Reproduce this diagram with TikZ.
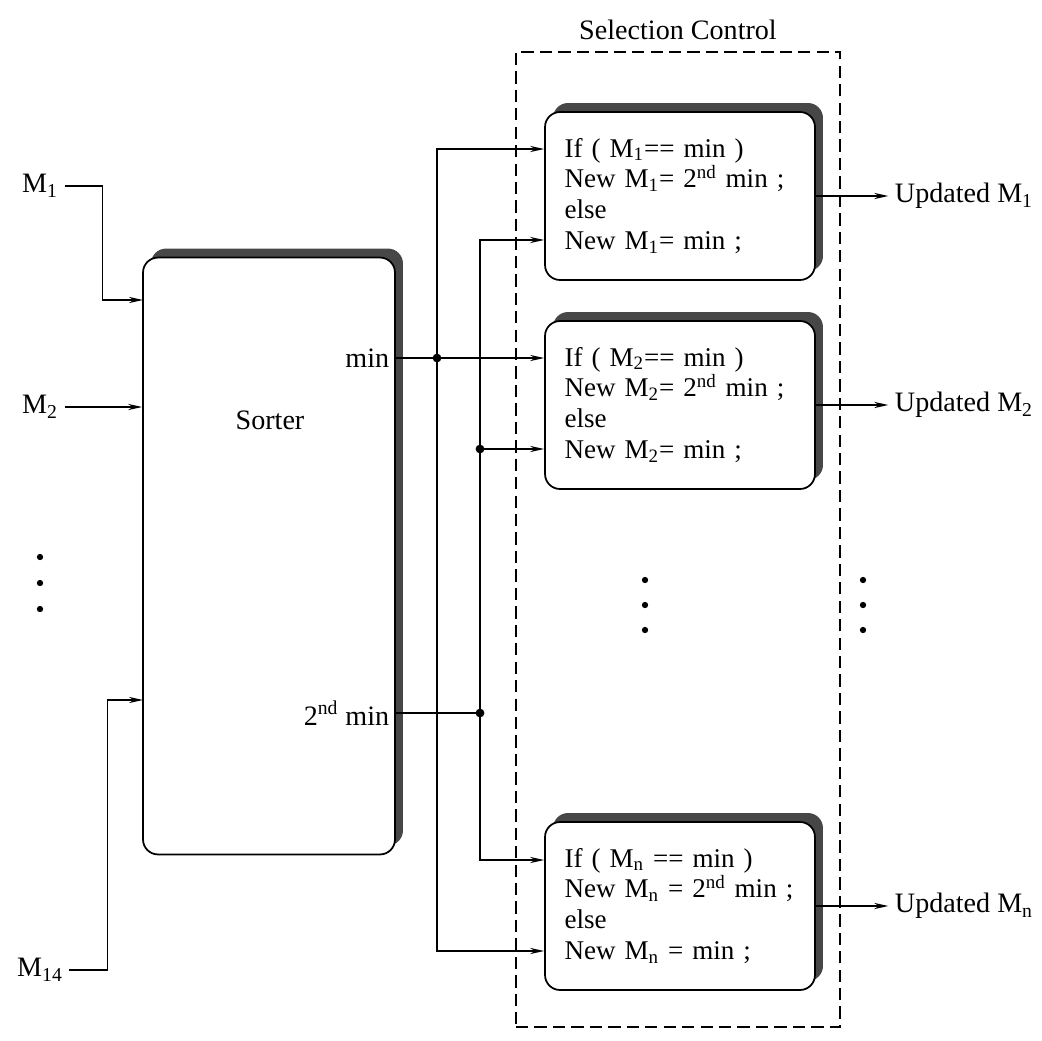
\documentclass[tikz,border=0pt]{standalone}
\usepackage{fontspec}
\setmainfont{Liberation Serif}
\usetikzlibrary{arrows.meta,positioning,shadows}

\begin{document}
\begin{tikzpicture}[
			x = 0.02cm, y = -0.02cm,
			> = {Stealth[length=8pt,width=3.5pt]},
			line width = 0.9pt,
			font = \fontsize{16}{17.6}\selectfont]
			\tikzstyle{block}=[
			draw = black,
			line width = 1pt,
			fill = white,
			rounded corners = 0.3cm,
			general shadow = {fill=black!72, shadow xshift=0.16cm, shadow yshift=0.18cm}]
			\tikzstyle{selbox}=[block,
			minimum width = 5.4cm,
			minimum height = 3.36cm,
			text width = 4.62cm,
			inner xsep = 0.39cm,
			font = \fontsize{15.4}{17.6}\selectfont,
			align = left]

			\useasboundingbox (0,0) rectangle (1042,1041);

			% sorter and its inputs
			\node[block, minimum width=5.04cm, minimum height=11.94cm] (sorter) at (269,556) {};
			\node (sortlbl) at (270,420) {Sorter};
			\node (m1) at (40,186) {M\textsubscript{1}};
			\node (m2) at (40,407) {M\textsubscript{2}};
			\node (m14) at (40,970) {M\textsubscript{14}};
			\coordinate (in1) at (143,300);
			\coordinate (in14) at (143,700);
			\foreach \y in {557,583,609} \fill (40,\y) circle (1.8pt);

			% selection control
			\node[draw, dashed, dash pattern=on 7pt off 3.5pt, line width=0.8pt,
			minimum width=6.48cm, minimum height=19.5cm] (selctl) at (678,539.5) {};
			\node (selname) [above=0.1cm of selctl] {Selection Control};

			\node[selbox] (sel1) at (680,196) {If ( M\textsubscript{1}== min )\\
			New M\textsubscript{1}= 2\textsuperscript{nd} min ;\\ else\\ New M\textsubscript{1}= min ;};
			\node[selbox] (sel2) at (680,405) {If ( M\textsubscript{2}== min )\\
			New M\textsubscript{2}= 2\textsuperscript{nd} min ;\\ else\\ New M\textsubscript{2}= min ;};
			\node[selbox] (seln) at (680,906) {If ( M\textsubscript{n} == min )\\
			New M\textsubscript{n} = 2\textsuperscript{nd} min ;\\ else\\ New M\textsubscript{n} = min ;};
			\foreach \x in {645,863}
				\foreach \y in {580,605,630} \fill (\x,\y) circle (1.8pt);

			\node (u1) [right=1.45cm of sel1] {Updated M\textsubscript{1}};
			\node (u2) [right=1.45cm of sel2] {Updated M\textsubscript{2}};
			\node (un) [right=1.45cm of seln] {Updated M\textsubscript{n}};

			% box inputs
			\coordinate (s1a) at ([yshift=0.94cm]sel1.west);
			\coordinate (s1b) at ([yshift=-0.88cm]sel1.west);
			\coordinate (s2a) at ([yshift=0.94cm]sel2.west);
			\coordinate (s2b) at ([yshift=-0.88cm]sel2.west);
			\coordinate (sna) at ([yshift=0.92cm]seln.west);
			\coordinate (snb) at ([yshift=-0.9cm]seln.west);
			\coordinate (jmin) at (437,0 |- s2a);
			\coordinate (jsec) at (480,713);
			\coordinate (jsec2) at (480,0 |- s2b);

			\node[anchor=east] (minlbl) at (sorter.east |- jmin) {min};
			\node[anchor=east] (seclbl) at (sorter.east |- jsec) {2\textsuperscript{nd} min};

			\draw[->] (m1.east) -- ++(38,0) |- (in1);
			\draw[->] (m2) -- (sorter.west |- m2);
			\draw[->] (m14.east) -- ++(38,0) |- (in14);

			\draw[->] (sorter.east |- jmin) -- (s2a);
			\draw[->] (jmin) |- (s1a);
			\draw[->] (jmin) |- (snb);
			\draw (sorter.east |- jsec) -- (jsec);
			\draw[->] (jsec) |- (s1b);
			\draw[->] (jsec) |- (sna);
			\draw[->] (jsec2) -- (s2b);
			\foreach \j in {jmin,jsec,jsec2} \fill (\j) circle (2.5pt);

			\draw[->] (sel1) -- (u1);
			\draw[->] (sel2) -- (u2);
			\draw[->] (seln) -- (un);
		\end{tikzpicture}
\end{document}
